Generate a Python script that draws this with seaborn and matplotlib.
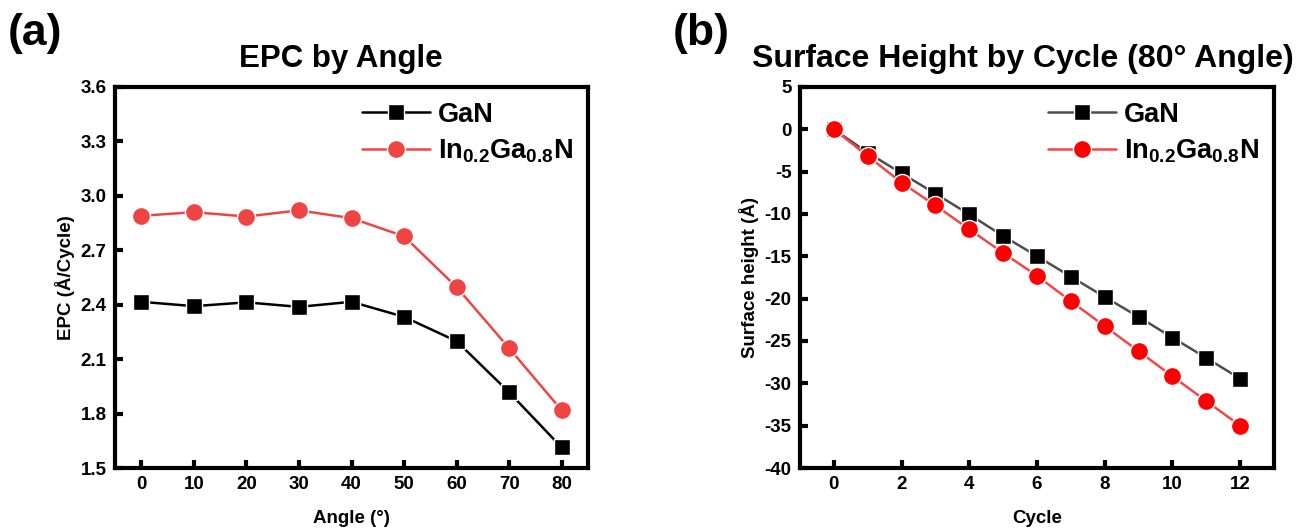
import matplotlib
matplotlib.use("Agg")
import matplotlib.pyplot as plt
from matplotlib import font_manager
import numpy as np
import pandas as pd
import seaborn as sns

# ---- data ----
angles = [0, 10, 20, 30, 40, 50, 60, 70, 80]
epc_gan = [2.416, 2.392, 2.413, 2.388, 2.416, 2.333, 2.199, 1.917, 1.613]
epc_ingan = [2.890, 2.910, 2.886, 2.920, 2.877, 2.777, 2.497, 2.160, 1.818]

cycles = [0, 1, 2, 3, 4, 5, 6, 7, 8, 9, 10, 11, 12]
height_gan = [0.0, -2.76, -5.2, -7.6, -10.05, -12.6, -14.98, -17.4, -19.8, -22.15, -24.6, -27.0, -29.45]
height_ingan = [0.0, -3.15, -6.3, -8.99, -11.8, -14.6, -17.3, -20.3, -23.25, -26.2, -29.17, -32.1, -35.0]

epc_yticks = [1.5, 1.8, 2.1, 2.4, 2.7, 3.0, 3.3, 3.6]
height_yticks = [5, 0, -5, -10, -15, -20, -25, -30, -35, -40]

label_gan = "GaN"
label_ingan = "In$_{0.2}$Ga$_{0.8}$N"

sns.set_theme(style="white")

names = {f.name for f in font_manager.fontManager.ttflist}
base = "Liberation Sans Narrow" if "Liberation Sans Narrow" in names else "Liberation Sans"
plt.rcParams["font.family"] = [base, "DejaVu Sans"]
plt.rcParams["font.weight"] = "bold"
plt.rcParams["axes.labelweight"] = "bold"
plt.rcParams["axes.titleweight"] = "bold"
plt.rcParams["axes.unicode_minus"] = False
for key in ("text.color", "axes.labelcolor", "xtick.color", "ytick.color", "axes.edgecolor"):
    plt.rcParams[key] = "black"
plt.rcParams["mathtext.fontset"] = "custom"
plt.rcParams["mathtext.rm"] = f"{base}:bold"
plt.rcParams["mathtext.it"] = f"{base}:bold"
plt.rcParams["mathtext.bf"] = f"{base}:bold"

fig = plt.figure(figsize=(13.16, 5.32), dpi=100)
ax1 = fig.add_axes([0.0874, 0.1203, 0.3594, 0.7162])
ax2 = fig.add_axes([0.6079, 0.1203, 0.3602, 0.7162])

df_a = pd.DataFrame({"angle": angles + angles,
                     "epc": epc_gan + epc_ingan,
                     "mat": [label_gan] * len(angles) + [label_ingan] * len(angles)})
df_b = pd.DataFrame({"cycle": cycles + cycles,
                     "h": height_gan + height_ingan,
                     "mat": [label_gan] * len(cycles) + [label_ingan] * len(cycles)})

# Panel (a)
sns.lineplot(data=df_a[df_a.mat == label_gan], x="angle", y="epc", ax=ax1,
             color="black", marker="s", markersize=12, markeredgecolor="white",
             markeredgewidth=1.0, linewidth=1.8, label=label_gan)
sns.lineplot(data=df_a[df_a.mat == label_ingan], x="angle", y="epc", ax=ax1,
             color="#f04444", marker="o", markersize=13, markeredgecolor="white",
             markeredgewidth=1.0, linewidth=1.8, label=label_ingan)
ax1.set_xlim(-5, 85)
ax1.set_ylim(1.5, 3.6)
ax1.set_xticks(angles)
ax1.set_yticks(epc_yticks)
ax1.set_yticklabels([f"{v:.1f}" for v in epc_yticks])
ax1.set_xlabel("Angle (°)", fontsize=13.5, labelpad=12)
ax1.set_ylabel("EPC (Å/Cycle)", fontsize=13.5, labelpad=4)
ax1.text(0.478, 1.035, "EPC by Angle", transform=ax1.transAxes, ha="center",
         va="bottom", fontsize=22.5, fontweight="bold")
fig.text(0.006, 0.915, "(a)", fontsize=32, fontweight="bold")

# Panel (b)
sns.lineplot(data=df_b[df_b.mat == label_gan], x="cycle", y="h", ax=ax2,
             color="#4d4d4d", marker="s", markersize=12, markerfacecolor="black",
             markeredgecolor="white", markeredgewidth=1.0, linewidth=1.8, label=label_gan)
sns.lineplot(data=df_b[df_b.mat == label_ingan], x="cycle", y="h", ax=ax2,
             color="#f04848", marker="o", markersize=13, markerfacecolor="#ff0000",
             markeredgecolor="white", markeredgewidth=1.0, linewidth=1.8, label=label_ingan)
ax2.set_xlim(-1, 13)
ax2.set_ylim(-40, 5)
ax2.set_xticks([0, 2, 4, 6, 8, 10, 12])
ax2.set_yticks(height_yticks)
ax2.set_xlabel("Cycle", fontsize=13.5, labelpad=12)
ax2.set_ylabel("Surface height (Å)", fontsize=13.5, labelpad=4)
ax2.text(0.47, 1.035, "Surface Height by Cycle (80° Angle)", transform=ax2.transAxes,
         ha="center", va="bottom", fontsize=23, fontweight="bold")
fig.text(0.511, 0.915, "(b)", fontsize=32, fontweight="bold")

for ax in (ax1, ax2):
    for s in ax.spines.values():
        s.set_linewidth(3)
        s.set_color("black")
    ax.tick_params(axis="both", direction="in", length=6, width=3, colors="black",
                   labelsize=13.5, pad=6, top=False, right=False, bottom=True, left=True)
    for lab in ax.get_xticklabels() + ax.get_yticklabels():
        lab.set_fontweight("bold")
    leg = ax.legend(loc="upper right", frameon=False, fontsize=19.5,
                    handlelength=2.5, handletextpad=0.3, labelspacing=0.35,
                    borderpad=0.25, borderaxespad=0.3)
    for t in leg.get_texts():
        t.set_fontweight("bold")
        t.set_color("black")

fig.savefig("out.png", dpi=100)
